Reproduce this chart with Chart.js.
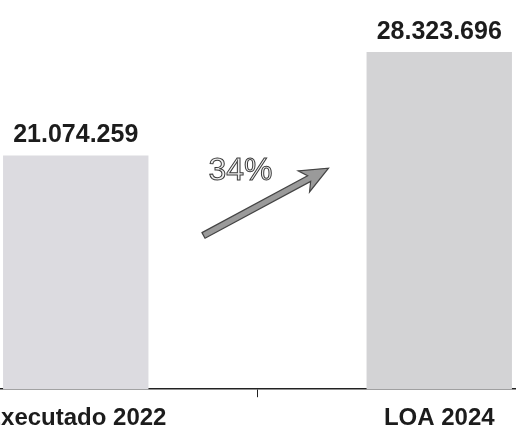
<!DOCTYPE html>
<html>
<head>
<meta charset="utf-8">
<script src="https://cdn.jsdelivr.net/npm/chart.js@4/dist/chart.umd.min.js"></script>
<style>
html,body{margin:0;padding:0;background:#fff;overflow:hidden;width:516px;height:439px;}
#wrap{position:absolute;left:-106px;top:0;width:727px;height:439px;}
</style>
</head>
<body>
<div id="wrap"><canvas id="c" width="727" height="439"></canvas></div>
<script>
const categories = ['Executado 2022', 'LOA 2024'];
const values = [21074259, 28323696];
const valueLabels = ['21.074.259', '28.323.696'];
const growthLabel = '34%';

const annotations = {
  id: 'annotations',
  afterDatasetsDraw(chart) {
    const ctx = chart.ctx;
    const meta = chart.getDatasetMeta(0);
    ctx.save();
    // value labels above bars
    ctx.font = 'bold 25px "Liberation Sans", Arial, sans-serif';
    ctx.fillStyle = '#1c1c1c';
    ctx.textAlign = 'center';
    ctx.textBaseline = 'alphabetic';
    meta.data.forEach((bar, i) => {
      ctx.fillText(valueLabels[i], bar.x, bar.y - 13);
    });
    // arrow between bars
    const mid = (meta.data[0].x + meta.data[1].x) / 2;
    const yS = chart.scales.y;
    const x0 = mid - 54, y0 = yS.getPixelForValue(values[0]) + 80;
    const x1 = mid + 71, y1 = yS.getPixelForValue(values[1]) + 116;
    const ang = Math.atan2(y1 - y0, x1 - x0);
    const len = Math.hypot(x1 - x0, y1 - y0);
    ctx.translate(x0, y0);
    ctx.rotate(ang);
    const sw = 3.2, hw = 12, hl = 22;
    ctx.beginPath();
    ctx.moveTo(0, -sw);
    ctx.lineTo(len - hl, -sw);
    ctx.lineTo(len - hl - 6, -hw);
    ctx.lineTo(len, 0);
    ctx.lineTo(len - hl - 6, hw);
    ctx.lineTo(len - hl, sw);
    ctx.lineTo(0, sw);
    ctx.closePath();
    ctx.fillStyle = '#9a9a9a';
    ctx.fill();
    ctx.strokeStyle = '#444';
    ctx.lineWidth = 1.2;
    ctx.stroke();
    ctx.setTransform(1, 0, 0, 1, 0, 0);
    // growth text (outlined)
    ctx.font = '32px "Liberation Sans", Arial, sans-serif';
    ctx.textAlign = 'center';
    ctx.textBaseline = 'middle';
    ctx.fillStyle = '#f0f0f0';
    ctx.fillText(growthLabel, mid - 17, 171);
    ctx.strokeStyle = '#3a3a3a';
    ctx.lineWidth = 1;
    ctx.strokeText(growthLabel, mid - 17, 171);
    ctx.restore();
  }
};

new Chart(document.getElementById('c'), {
  type: 'bar',
  data: {
    labels: categories,
    datasets: [{
      data: values,
      backgroundColor: ['#dcdbe0', '#d3d3d5'],
      borderWidth: 0,
      categoryPercentage: 1,
      barPercentage: 0.4
    }]
  },
  options: {
    responsive: false,
    devicePixelRatio: 1,
    animation: false,
    layout: { padding: { top: 0, bottom: -1, left: 0, right: 0 } },
    plugins: { legend: { display: false }, tooltip: { enabled: false } },
    scales: {
      x: {
        grid: { display: true, drawOnChartArea: false, drawTicks: true, tickLength: 8, color: '#222', lineWidth: 1 },
        border: { display: true, color: '#222', width: 1.5 },
        ticks: {
          color: '#1c1c1c',
          padding: 7,
          font: { family: '"Liberation Sans", Arial, sans-serif', size: 24, weight: 'bold' },
          maxRotation: 0, autoSkip: false
        }
      },
      y: {
        display: false,
        min: 4674000,
        max: 31980000
      }
    }
  },
  plugins: [annotations]
});
</script>
</body>
</html>
